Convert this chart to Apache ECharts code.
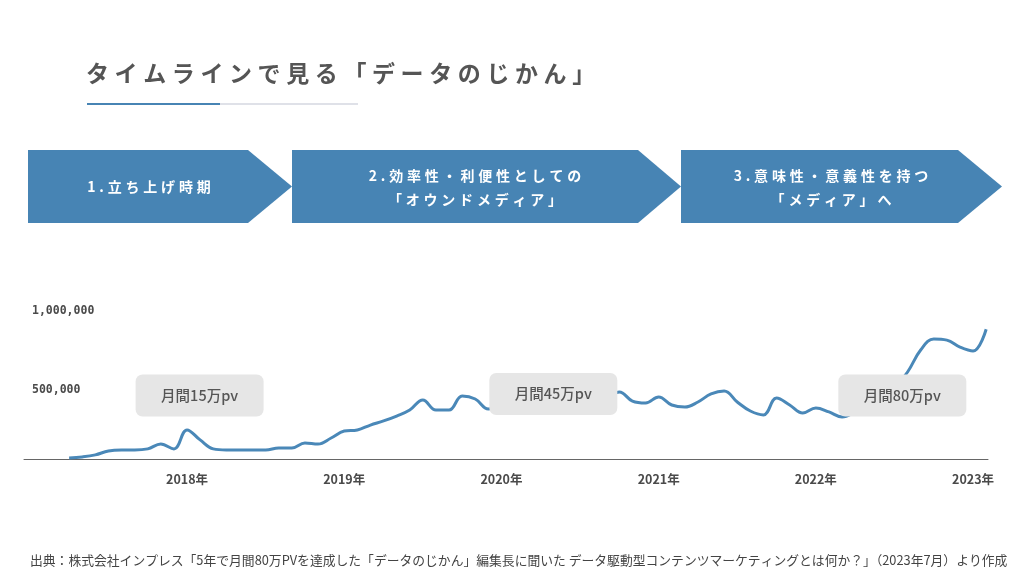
<!DOCTYPE html>
<html lang="ja">
<head>
<meta charset="utf-8">
<title>タイムラインで見る「データのじかん」</title>
<script src="https://cdn.jsdelivr.net/npm/echarts@6.0.0/dist/echarts.min.js"></script>
<style>
  html, body { margin: 0; padding: 0; background: #fff; }
  #main { width: 1024px; height: 576px; }
</style>
</head>
<body>
<div id="main"></div>
<script>
const titleText = 'タイムラインで見る「データのじかん」';
const phases = [
  ['1.立ち上げ時期'],
  ['2.効率性・利便性としての', '「オウンドメディア」'],
  ['3.意味性・意義性を持つ', '「メディア」へ'],
];
const sourceText = '出典：株式会社インプレス「5年で月間80万PVを達成した「データのじかん」編集長に聞いた データ駆動型コンテンツマーケティングとは何か？」（2023年7月）より作成';

const months = [
  '2017-04', '2017-05', '2017-06', '2017-07', '2017-08', '2017-09', '2017-10', '2017-11', '2017-12',
  '2018-01', '2018-02', '2018-03', '2018-04', '2018-05', '2018-06', '2018-07', '2018-08', '2018-09', '2018-10', '2018-11', '2018-12',
  '2019-01', '2019-02', '2019-03', '2019-04', '2019-05', '2019-06', '2019-07', '2019-08', '2019-09', '2019-10', '2019-11', '2019-12',
  '2020-01', '2020-02', '2020-03', '2020-04', '2020-05', '2020-06', '2020-07', '2020-08', '2020-09', '2020-10', '2020-11', '2020-12',
  '2021-01', '2021-02', '2021-03', '2021-04', '2021-05', '2021-06', '2021-07', '2021-08', '2021-09', '2021-10', '2021-11', '2021-12',
  '2022-01', '2022-02', '2022-03', '2022-04', '2022-05', '2022-06', '2022-07', '2022-08', '2022-09', '2022-10', '2022-11', '2022-12',
  '2023-01', '2023-02',
];
const pageViews = [
  70000, 76000, 89000, 114000, 120000, 120000, 127000, 158000, 127000,
  247000, 184000, 127000, 120000, 120000, 120000, 120000, 133000, 133000, 165000, 158000, 196000,
  240000, 247000, 278000, 304000, 335000, 373000, 437000, 373000, 373000, 462000, 443000, 380000,
  405000, 449000, 487000, 462000, 437000, 449000, 475000, 481000, 462000, 487000, 430000, 418000,
  456000, 405000, 392000, 424000, 475000, 494000, 424000, 367000, 342000, 449000, 405000, 354000,
  386000, 361000, 329000, 361000, 405000, 449000, 513000, 614000, 753000, 823000, 816000, 772000,
  747000, 885000,
];
const yearTicks = [2018, 2019, 2020, 2021, 2022, 2023];
const valueTicks = [500000, 1000000];
const noteLabels = ['月間15万pv', '月間45万pv', '月間80万pv'];
const noteCoords = [[2018.08, 465000], [2020.33, 475000], [2022.55, 465000]];

const FONT = '"Noto Sans CJK JP", "Noto Sans", sans-serif';
const BLUE = '#4784b4';
const GRAY_TEXT = '#555555';
// rounded box, 128 x 42, corner radius 7
const NOTE_BOX = 'path://M7,0H121A7,7,0,0,1,128,7V35A7,7,0,0,1,121,42H7A7,7,0,0,1,0,35V7A7,7,0,0,1,7,0Z';

const toYear = (s) => {
  const [y, m] = s.split('-').map(Number);
  return y + (m - 1) / 12;
};

// letter-spaced text: one text element per character
const measureCtx = document.createElement('canvas').getContext('2d');
function spacedText(str, x, y, size, weight, color, spacing, align) {
  measureCtx.font = `${weight} ${size}px ${FONT}`;
  const chars = Array.from(str);
  const widths = chars.map((c) => measureCtx.measureText(c).width);
  const total = widths.reduce((a, b) => a + b, 0) + spacing * (chars.length - 1);
  let cx = align === 'center' ? x - total / 2 : x;
  return chars.map((c, i) => {
    const el = {
      type: 'text',
      x: cx,
      y: y,
      silent: true,
      style: {
        text: c,
        fill: color,
        font: `${weight} ${size}px ${FONT}`,
        align: 'left',
        verticalAlign: 'middle',
        textAlign: 'left',
        textVerticalAlign: 'middle',
      },
    };
    cx += widths[i] + spacing;
    return el;
  });
}

function chevron(left, right, tip, top, bottom) {
  return {
    type: 'polygon',
    silent: true,
    shape: { points: [[left, top], [right, top], [tip, (top + bottom) / 2], [right, bottom], [left, bottom]] },
    style: { fill: BLUE },
  };
}

const myChart = echarts.init(document.getElementById('main'));

const graphics = [];
graphics.push(...spacedText(titleText, 86, 73, 23, 'bold', GRAY_TEXT, 5.6, 'left'));
graphics.push({ type: 'line', silent: true, shape: { x1: 87, y1: 104, x2: 220, y2: 104 }, style: { stroke: BLUE, lineWidth: 2 } });
graphics.push({ type: 'line', silent: true, shape: { x1: 220, y1: 104, x2: 358, y2: 104 }, style: { stroke: '#dfe1e8', lineWidth: 2 } });

graphics.push(chevron(28, 248, 292, 150, 223));
graphics.push(chevron(292, 638, 681, 150, 223));
graphics.push(chevron(681, 958, 1002, 150, 223));

const phaseCenters = [149, 475, 831];
phases.forEach((lines, i) => {
  const ys = lines.length === 1 ? [187] : [176, 200];
  lines.forEach((ln, j) => {
    graphics.push(...spacedText(ln, phaseCenters[i], ys[j], 14, 'bold', '#ffffff', 3.8, 'center'));
  });
});

graphics.push({
  type: 'text',
  x: 30,
  y: 560,
  silent: true,
  style: {
    text: sourceText,
    fill: '#444444',
    font: `12.8px ${FONT}`,
    align: 'left',
    verticalAlign: 'middle',
    textAlign: 'left',
    textVerticalAlign: 'middle',
  },
});

const option = {
  animation: false,
  backgroundColor: '#ffffff',
  grid: { left: 24, right: 36, top: 300, bottom: 117, containLabel: false, outerBoundsMode: 'none' },
  xAxis: {
    type: 'value',
    min: 2016.963,
    max: 2023.095,
    axisLine: { show: true, lineStyle: { color: '#666666', width: 1 } },
    axisTick: { show: false },
    splitLine: { show: false },
    axisLabel: {
      customValues: yearTicks,
      formatter: (v) => `${Math.round(v)}年`,
      color: '#4a4a4a',
      fontFamily: FONT,
      fontSize: 12.5,
      fontWeight: 'bold',
      margin: 14,
    },
  },
  yAxis: {
    type: 'value',
    min: 63000,
    max: 1070000,
    axisLine: { show: false },
    axisTick: { show: false },
    splitLine: { show: false },
    axisLabel: {
      customValues: valueTicks,
      inside: true,
      margin: 8,
      formatter: (v) => v.toLocaleString('en-US'),
      color: '#4a4a4a',
      fontFamily: '"DejaVu Sans Mono", monospace',
      fontSize: 11.5,
      fontWeight: 'bold',
    },
  },
  series: [
    {
      type: 'line',
      data: months.map((m, i) => [toYear(m), pageViews[i]]),
      smooth: 0.4,
      symbol: 'none',
      lineStyle: { color: '#4a88b8', width: 3 },
      markPoint: {
        symbol: NOTE_BOX,
        symbolSize: [128, 42],
        itemStyle: { color: '#e6e6e6' },
        label: {
          show: true,
          formatter: '{b}',
          color: GRAY_TEXT,
          fontFamily: FONT,
          fontSize: 14.5,
          fontWeight: 500,
        },
        data: noteLabels.map((name, i) => ({ name, coord: noteCoords[i] })),
      },
    },
  ],
  graphic: graphics,
};

myChart.setOption(option);
</script>
</body>
</html>
